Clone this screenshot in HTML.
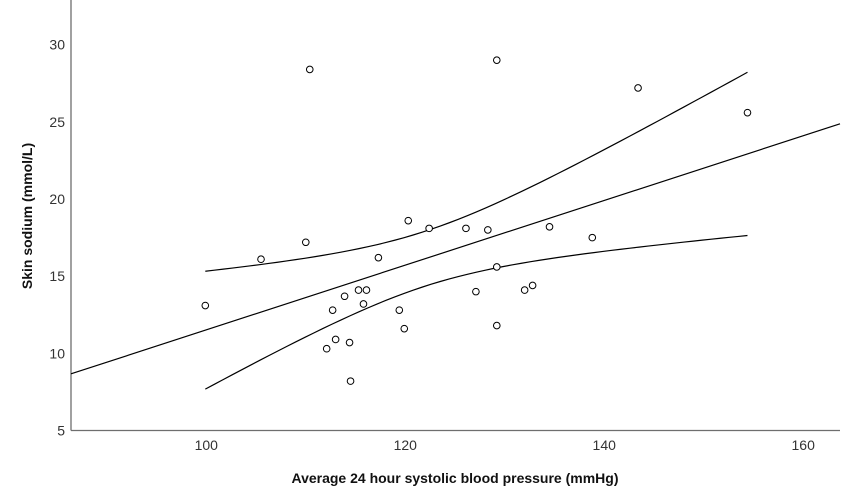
<!DOCTYPE html>
<html><head><meta charset="utf-8"><style>
html,body{margin:0;padding:0;background:#fff;}
svg{display:block;font-family:"Liberation Sans",Arial,sans-serif;}
</style></head><body>
<svg id="chart" width="850" height="500"></svg>
<script>
const xTicks=[100,120,140,160];
const yTicks=[5,10,15,20,25,30];
const bpValues=[99.9,105.5,110.0,110.4,112.1,112.7,113.0,113.9,114.4,114.5,115.3,115.8,116.1,117.3,119.4,119.9,120.3,122.4,126.1,127.1,128.3,129.2,129.2,129.2,132.0,132.8,134.5,138.8,143.4,154.4];
const sodiumValues=[13.1,16.1,17.2,28.4,10.3,12.8,10.9,13.7,10.7,8.2,14.1,13.2,14.1,16.2,12.8,11.6,18.6,18.1,18.1,14.0,18.0,29.0,15.6,11.8,14.1,14.4,18.2,17.5,27.2,25.6];

const NS='http://www.w3.org/2000/svg';
const svg=document.getElementById('chart');
const L=71,R=840,T=0,B=430.5;
const xMin=86.4,xMax=163.7,yMin=5,yMax=32.9;
const xs=v=>L+(v-xMin)/(xMax-xMin)*(R-L);
const ys=v=>B-(v-yMin)/(yMax-yMin)*(B-T);
function mk(tag,attrs){const e=document.createElementNS(NS,tag);for(const k in attrs)e.setAttribute(k,attrs[k]);svg.appendChild(e);return e;}

// axes
let a=mk('line',{x1:L,y1:T,x2:L,y2:B,stroke:'#6e6e6e','stroke-width':1.3});


a=mk('line',{x1:L,y1:B,x2:R,y2:B,stroke:'#6e6e6e','stroke-width':1.3});



xTicks.forEach(t=>{const e=mk('text',{x:xs(t),y:450,'text-anchor':'middle','font-size':14,fill:'#333'});e.textContent=t;

});
yTicks.forEach(t=>{const e=mk('text',{x:65,y:ys(t)+5,'text-anchor':'end','font-size':14,fill:'#333'});e.textContent=t;

});

let tt=mk('text',{x:455,y:483,'text-anchor':'middle','font-size':14,'font-weight':'bold',fill:'#111'});
tt.textContent='Average 24 hour systolic blood pressure (mmHg)';


tt=mk('text',{x:0,y:0,'text-anchor':'middle','font-size':14,'font-weight':'bold',fill:'#111',transform:'translate(32,216) rotate(-90)'});
tt.textContent='Skin sodium (mmol/L)';



// regression
const n=bpValues.length;
const mx=bpValues.reduce((s,v)=>s+v,0)/n, my=sodiumValues.reduce((s,v)=>s+v,0)/n;
let sxx=0,sxy=0;for(let i=0;i<n;i++){sxx+=(bpValues[i]-mx)**2;sxy+=(bpValues[i]-mx)*(sodiumValues[i]-my);}
const b1=sxy/sxx,b0=my-b1*mx;
let sse=0;for(let i=0;i<n;i++)sse+=(sodiumValues[i]-b0-b1*bpValues[i])**2;
const se=Math.sqrt(sse/(n-2)),tval=2.048;
const fit=x=>b0+b1*x;
let ln=mk('line',{x1:xs(xMin),y1:ys(fit(xMin)),x2:xs(xMax),y2:ys(fit(xMax)),stroke:'#000','stroke-width':1.2});


const bxMin=Math.min(...bpValues),bxMax=Math.max(...bpValues);
['upper','lower'].forEach((k,j)=>{let d='';for(let s=0;s<=60;s++){const x=bxMin+(bxMax-bxMin)*s/60;const h=tval*se*Math.sqrt(1/n+(x-mx)**2/sxx);const y=fit(x)+(j?-h:h);d+=(s?'L':'M')+xs(x).toFixed(2)+','+ys(y).toFixed(2);}
const p=mk('path',{d:d,fill:'none',stroke:'#000','stroke-width':1.2});

});

for(let i=0;i<n;i++){const c=mk('circle',{cx:xs(bpValues[i]),cy:ys(sodiumValues[i]),r:3.3,fill:'#fff',stroke:'#000','stroke-width':1});

}
</script>
</body></html>
